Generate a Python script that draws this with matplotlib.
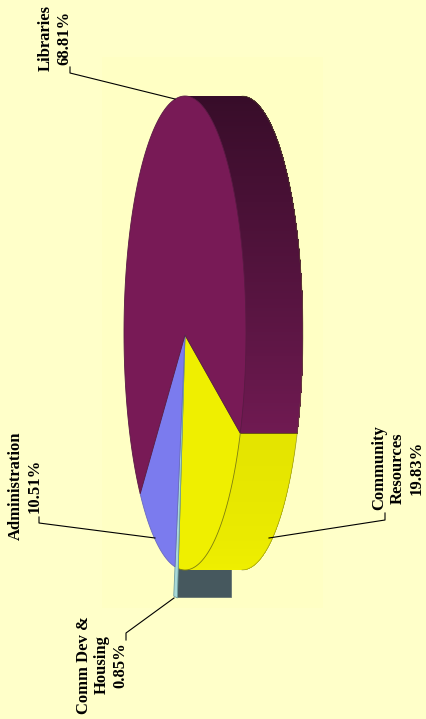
import numpy as np
import matplotlib
matplotlib.use("Agg")
import matplotlib.pyplot as plt
from matplotlib.patches import Polygon, Rectangle

# Budget shares, in percent, listed clockwise from the Community Resources edge
categories = ["Community\nResources", "Comm Dev &\nHousing", "Administration", "Libraries"]
shares = [19.83, 0.85, 10.51, 68.81]
face_colors = ["#EFEF00", "#A8D8D8", "#7B7BEE", "#781A56"]
edge_colors = ["#7E7E10", "#6F9F9F", "#6A6AC0", "#5A1A44"]

W, H = 427, 719
BG = "#FFFFC9"
PANEL = "#FFFFC4"
CX, CY, RX, RY = 185.0, 333.0, 61.0, 237.0
DEPTH = 57.0
START_ANGLE = -25.0
EXPLODE = {"Comm Dev &\nHousing": 1.125}

fig = plt.figure(figsize=(W / 100, H / 100), dpi=100, facecolor=BG)
ax = fig.add_axes([0, 0, 1, 1])
ax.set_xlim(0, W)
ax.set_ylim(H, 0)
ax.axis("off")
ax.add_patch(Rectangle((102, 57), 221, 551, fc=PANEL, ec="none", zorder=0))


def ellipse_pt(t_deg, scale=1.0, dx=0.0):
    t = np.radians(t_deg)
    return np.column_stack([CX + dx + RX * scale * np.cos(t),
                            CY - RY * scale * np.sin(t)])


def mix(a, b, f):
    a, b = np.array(matplotlib.colors.to_rgb(a)), np.array(matplotlib.colors.to_rgb(b))
    return a + (b - a) * f


def shaded_rim(t_start, t_end, c0, c1, power, n):
    # Each band runs to the far end of the rim, so later bands overpaint without seams
    ts = np.linspace(t_start, t_end, n)
    for i, u in enumerate(ts[:-1]):
        arc = ellipse_pt(np.linspace(u, t_end, 60))
        c = mix(c0, c1, (i / (n - 2)) ** power)
        ax.add_patch(Polygon(np.vstack([arc, (arc + [DEPTH, 0])[::-1]]),
                             fc=c, ec="none", zorder=2))


# Slice angle ranges, running clockwise
spans = {}
a = START_ANGLE
for name, share in zip(categories, shares):
    spans[name] = (a, a - share * 3.6)
    a -= share * 3.6

# Rim of the exploded sliver sits behind everything else
t0, t1 = spans["Comm Dev &\nHousing"]
s = EXPLODE["Comm Dev &\nHousing"]
tm = (t0 + t1) / 2
p = ellipse_pt(np.array([tm]), s)[0]
ax.add_patch(Polygon([p, p + [DEPTH - 2, 0], [p[0] + DEPTH - 2, CY + RY - 4], [p[0], CY + RY - 4]],
                     fc="#46585E", ec="#5A6A6A", lw=0.5, zorder=1))

# Rim of Community Resources and Libraries with a soft gradient
shaded_rim(spans["Community\nResources"][0], -90, "#E4E400", "#F0F000", 1.0, 30)
shaded_rim(90, START_ANGLE, "#360C28", "#701A52", 1.6, 160)

# Outline of the rim and the flat ends
rim = ellipse_pt(np.linspace(90, -90, 200), dx=DEPTH)
ax.plot(rim[:, 0], rim[:, 1], color="#6A6A30", lw=0.5, alpha=0.6, zorder=3)
edge = ellipse_pt(np.array([START_ANGLE]))[0]
ax.plot([edge[0], edge[0] + DEPTH], [edge[1], edge[1]], color="#6E5A10", lw=0.7, zorder=3)

# Top face, one wedge per category
for name, fc, ec in zip(categories, face_colors, edge_colors):
    t0, t1 = spans[name]
    scale = EXPLODE.get(name, 1.0)
    pts = np.vstack([[CX, CY + 2], ellipse_pt(np.linspace(t0, t1, 160), scale)])
    ax.add_patch(Polygon(pts, closed=True, fc=fc, ec=ec, lw=0.6, zorder=4))

# Leader lines from each slice to its label
leaders = {
    "Libraries": ([175, 70, 70], [99, 73, 67]),
    "Administration": ([155, 39, 39], [538, 523, 517]),
    "Community\nResources": ([269, 385, 385], [538, 520, 513]),
    "Comm Dev &\nHousing": ([174, 126, 126], [598, 633, 640]),
}
for xs, ys in leaders.values():
    ax.plot(xs, ys, color="black", lw=0.8, zorder=5)

# Rotated labels with the stated percentage
label_pos = {
    "Libraries": (55, 38),
    "Administration": (25, 486),
    "Community\nResources": (398, 468),
    "Comm Dev &\nHousing": (102, 665),
}
for name, share in zip(categories, shares):
    x, y = label_pos[name]
    ax.text(x, y, f"{name}\n{share:.2f}%", rotation=90, ha="center", va="center",
            ma="center", family="Liberation Serif", fontweight="bold", fontsize=12,
            linespacing=1.2, color="black", zorder=6)

fig.savefig("out.png", dpi=100, facecolor=BG)
